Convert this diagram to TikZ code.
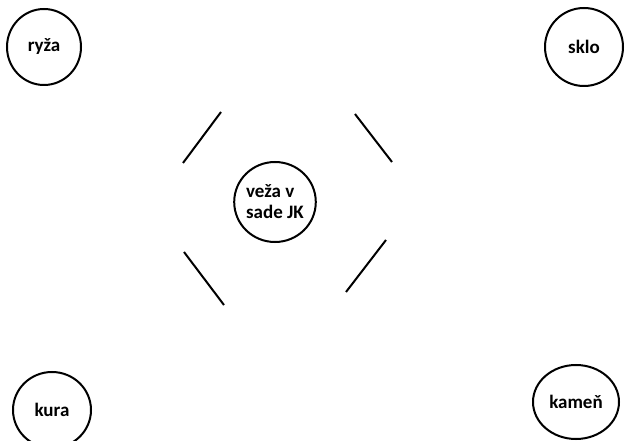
\documentclass[tikz,border=0pt]{standalone}
\usepackage{fontspec}
\setmainfont{Carlito}
\usetikzlibrary{shapes.geometric}
\tikzset{
  bubble/.style={draw=black, line width=2pt, ellipse, inner sep=0pt, font=\bfseries\fontsize{19}{21}\selectfont, align=left},
  bar/.style={line width=2pt}
}
\begin{document}
\begin{tikzpicture}[x=1pt,y=-1pt]
\useasboundingbox[fill=white] (0,0) rectangle (625,441);
\node[bubble, minimum width=74pt, minimum height=76pt] (ryza) at (44,47) {ryža};
\node[bubble, minimum width=78pt, minimum height=78pt] (sklo) at (584,47) {sklo};
\node[bubble, minimum width=78pt, minimum height=80pt] (veza) at (275,202) {veža v\\sade JK};
\node[bubble, minimum width=78pt, minimum height=76pt] (kura) at (52,410) {kura};
\node[bubble, minimum width=86pt, minimum height=74pt] (kamen) at (576,402) {kameň};
\coordinate (a1) at (183,163); \coordinate (a2) at (221,112);
\coordinate (b1) at (355,114); \coordinate (b2) at (392,162);
\coordinate (c1) at (184,252); \coordinate (c2) at (224,305);
\coordinate (d1) at (386,240); \coordinate (d2) at (346,292);
\draw[bar] (a1) -- (a2);
\draw[bar] (b1) -- (b2);
\draw[bar] (c1) -- (c2);
\draw[bar] (d1) -- (d2);
\end{tikzpicture}
\end{document}
